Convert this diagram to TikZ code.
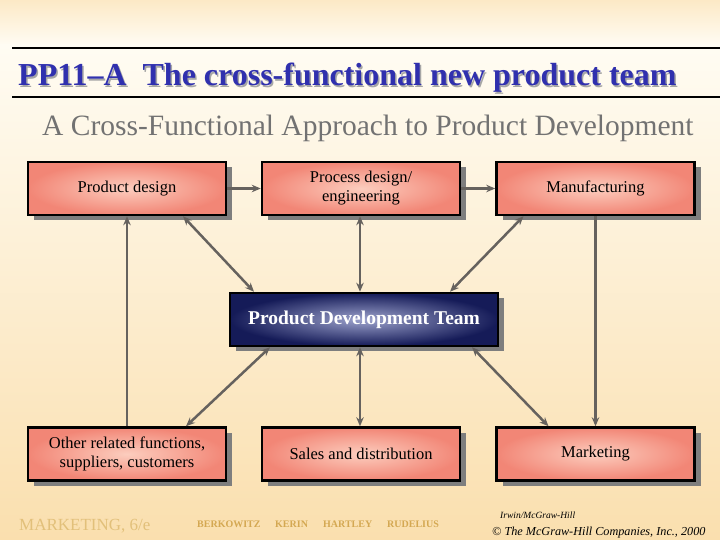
\documentclass[tikz,border=0pt]{standalone}
\usepackage{fontspec}
\setmainfont{Liberation Serif}
\usetikzlibrary{arrows.meta,shadows,calc}

\definecolor{titleblue}{HTML}{3030AE}
\definecolor{subgray}{HTML}{727272}
\definecolor{boxouter}{HTML}{F28676}
\definecolor{boxinner}{HTML}{FCCDBE}
\definecolor{teamouter}{HTML}{151B58}
\definecolor{teaminner}{HTML}{9CA2CC}
\definecolor{shadowgray}{HTML}{7E7E7E}
\definecolor{linkgray}{HTML}{66625E}
\definecolor{bgtop}{HTML}{FCE9C6}
\definecolor{bgmid}{HTML}{FFFCF3}
\definecolor{bgbot}{HTML}{FADFAE}
\definecolor{foottan}{HTML}{E2C07A}
\definecolor{authortan}{HTML}{D4A852}

\begin{document}
\begin{tikzpicture}[x=1pt,y=-1pt,
  box/.style={draw=black,line width=2.5pt,minimum width=198pt,minimum height=53pt,
    inner sep=0pt,align=center,inner color=boxinner,outer color=boxouter,
    font=\fontsize{16.5}{19}\selectfont,
    drop shadow={shadow xshift=6pt,shadow yshift=-5pt,fill=shadowgray,opacity=1}},
  team/.style={box,minimum width=268pt,inner color=teaminner,outer color=teamouter,
    text=white,font=\fontsize{19.5}{22}\selectfont\bfseries},
  link/.style={draw=linkgray,line width=2.5pt,-{Stealth[length=9pt,width=7.5pt]}},
  twoway/.style={link,{Stealth[length=9pt,width=7.5pt]}-{Stealth[length=9pt,width=7.5pt]}},
  author/.style={anchor=base west,inner sep=0pt,text=authortan,font=\fontsize{10}{10}\selectfont\bfseries}]

% background
\useasboundingbox (0,0) rectangle (720,540);
\shade[top color=bgtop,bottom color=bgmid] (0,0) rectangle (720,45);
\shade[top color=bgmid,bottom color=bgbot] (0,45) rectangle (720,540);

% title
\draw[line width=2pt] (12,48) -- (720,48);
\draw[line width=2pt] (12,97) -- (720,97);
\node[anchor=base west,inner sep=0pt,text=black!35,font=\fontsize{32}{32}\selectfont\bfseries] (titleshadow) at (19.5,87.5) {PP11--A\ \ The cross-functional new product team};
\node[anchor=base west,inner sep=0pt,text=titleblue,font=\fontsize{32}{32}\selectfont\bfseries] (title) at (18,86) {PP11--A\ \ The cross-functional new product team};
\node[anchor=base west,inner sep=0pt,text=subgray,font=\fontsize{29.5}{30}\selectfont] (subtitle) at (42,136) {A Cross-Functional Approach to Product Development};

% boxes
\node[box] (design) at (127,188.5) {Product design};
\node[box] (process) at (361,188.5) {Process design/\\engineering};
\node[box] (manuf) at (595.5,188.5) {Manufacturing};
\node[team] (team) at (364,319.5) {Product Development Team};
\node[box] (other) at (127,454) {Other related functions,\\suppliers, customers};
\node[box] (sales) at (361,454) {Sales and distribution};
\node[box] (market) at (595.5,454) {Marketing};

% connectors
\draw[link] (design.east) -- (process.west);
\draw[link] (process.east) -- (manuf.west);
\draw[link] (other.north) -- (design.south);
\draw[link] (manuf.south) -- (market.north);
\draw[twoway] ([xshift=-1pt]process.south) -- ([xshift=-1pt]process.south |- team.north);
\draw[twoway] ([xshift=-1pt]sales.north |- team.south) -- ([xshift=-1pt]sales.north);
\draw[twoway] ([xshift=56pt]design.south) -- ([xshift=-110pt]team.north);
\draw[twoway] ([xshift=-72pt]manuf.south) -- ([xshift=86pt]team.north);
\draw[twoway] ([xshift=-94pt]team.south) -- ([xshift=59pt]other.north);
\draw[twoway] ([xshift=108pt]team.south) -- ([xshift=-47pt]market.north);

% footer
\node[anchor=base west,inner sep=0pt,text=foottan,font=\fontsize{17}{17}\selectfont] (book) at (19,530) {MARKETING, 6/e};
\node[author] (berkowitz) at (197,527) {BERKOWITZ};
\node[author] (kerin) at (275,527) {KERIN};
\node[author] (hartley) at (323,527) {HARTLEY};
\node[author] (rudelius) at (387,527) {RUDELIUS};
\node[anchor=base west,inner sep=0pt,font=\fontsize{9.5}{9.5}\selectfont\itshape] (publisher) at (500,518) {Irwin/McGraw-Hill};
\node[anchor=base west,inner sep=0pt,font=\fontsize{12.2}{13}\selectfont\itshape] (copyright) at (492,535) {© The McGraw-Hill Companies, Inc., 2000};
\end{tikzpicture}
\end{document}
